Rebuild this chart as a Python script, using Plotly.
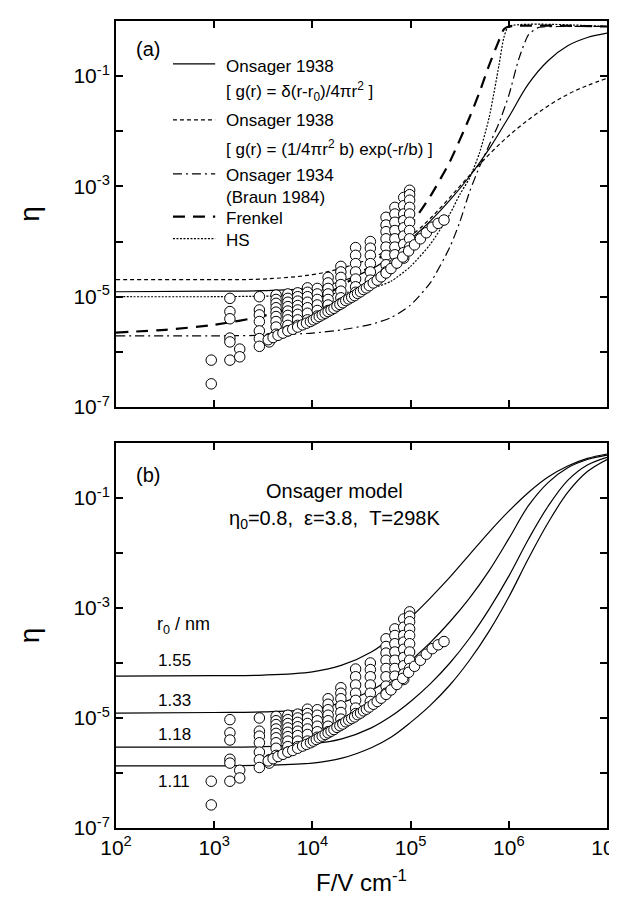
import plotly.graph_objects as go

FONT = "Liberation Sans, Arial, sans-serif"

# ---------------- data (log10 values) ----------------
lgF = [2.0, 3.0, 3.5, 4.0, 4.3, 4.6, 4.8, 5.0, 5.2, 5.4, 5.6, 5.8, 6.0, 6.2, 6.4, 6.6, 6.8, 7.0]

# panel (a) curves
ons38_delta = [-4.91, -4.90, -4.89, -4.84, -4.72, -4.50, -4.27, -3.96, -3.63, -3.25, -2.82, -2.32, -1.74, -1.14, -0.72, -0.45, -0.30, -0.22]
ons38_exp = [-4.69, -4.69, -4.68, -4.60, -4.48, -4.30, -4.12, -3.90, -3.58, -3.20, -2.80, -2.42, -2.08, -1.79, -1.54, -1.33, -1.17, -1.04]

lgF_braun = [2.0, 3.0, 3.5, 4.0, 4.3, 4.6, 4.8, 5.0, 5.2, 5.4, 5.5, 5.6, 5.7, 5.8, 5.9, 6.0, 6.1, 6.2, 6.3, 6.5, 7.0]
ons34_braun = [-5.71, -5.71, -5.70, -5.66, -5.60, -5.50, -5.38, -5.15, -4.75, -4.10, -3.65, -3.10, -2.65, -2.25, -1.85, -1.35, -0.70, -0.25, -0.12, -0.10, -0.10]

lgF_frenkel = [2.0, 2.5, 3.0, 3.5, 4.0, 4.3, 4.6, 4.8, 5.0, 5.2, 5.4, 5.6, 5.7, 5.8, 5.9, 5.95, 6.0, 7.0]
frenkel = [-5.65, -5.60, -5.51, -5.35, -5.07, -4.80, -4.43, -4.10, -3.70, -3.18, -2.55, -1.75, -1.30, -0.80, -0.35, -0.15, -0.10, -0.10]

lgF_hs = [2.0, 3.0, 3.5, 4.0, 4.3, 4.6, 4.8, 5.0, 5.2, 5.4, 5.5, 5.6, 5.7, 5.8, 5.9, 5.95, 6.0, 7.0]
hs = [-5.00, -5.00, -4.99, -4.97, -4.93, -4.85, -4.72, -4.45, -4.05, -3.50, -3.15, -2.85, -2.40, -1.75, -0.80, -0.30, -0.10, -0.10]

# panel (b) Onsager curves for several r0
r0_labels = ["1.55", "1.33", "1.18", "1.11"]
ons_r155 = [-4.24, -4.23, -4.22, -4.16, -4.04, -3.80, -3.54, -3.18, -2.82, -2.44, -2.03, -1.62, -1.24, -0.90, -0.62, -0.42, -0.28, -0.20]
ons_r133 = ons38_delta
ons_r118 = [-5.53, -5.53, -5.52, -5.47, -5.38, -5.18, -4.97, -4.70, -4.38, -4.00, -3.55, -3.02, -2.42, -1.75, -1.15, -0.68, -0.40, -0.26]
ons_r111 = [-5.87, -5.87, -5.86, -5.82, -5.73, -5.54, -5.35, -5.08, -4.77, -4.40, -3.95, -3.42, -2.80, -2.10, -1.45, -0.90, -0.52, -0.30]

# experimental points: columns (log10 F, list of log10 eta)
col_lgF = [2.97, 3.16, 3.26, 3.46, 3.56, 3.63, 3.75, 3.85, 3.95, 4.05, 4.16, 4.29, 4.44, 4.59, 4.75, 4.84, 4.93, 4.99]
col_lgEta = [
    [-6.15, -6.58],
    [-5.03, -5.27, -5.40, -5.75, -5.82, -6.15],
    [-5.95, -6.09],
    [-5.00, -5.24, -5.33, -5.45, -5.62, -5.76, -5.90],
    [-5.76, -5.82],
    [-4.97, -5.05, -5.12, -5.20, -5.28, -5.36, -5.45, -5.55, -5.68],
    [-4.95, -5.03, -5.10, -5.18, -5.26, -5.34, -5.42, -5.52, -5.62],
    [-4.93, -5.00, -5.08, -5.16, -5.24, -5.32, -5.42, -5.52],
    [-4.84, -4.92, -5.00, -5.10, -5.20, -5.30, -5.42],
    [-4.85, -4.95, -5.05, -5.15, -5.25, -5.35],
    [-4.65, -4.75, -4.85, -4.95, -5.05, -5.15, -5.25],
    [-4.45, -4.55, -4.65, -4.78, -4.90, -5.02, -5.12],
    [-4.11, -4.25, -4.40, -4.55, -4.68, -4.82, -4.92],
    [-4.00, -4.12, -4.25, -4.40, -4.55, -4.70],
    [-3.56, -3.70, -3.82, -3.95, -4.10, -4.25, -4.42, -4.55],
    [-3.38, -3.50, -3.65, -3.80, -3.95, -4.10, -4.24, -4.40],
    [-3.20, -3.35, -3.50, -3.62, -3.75, -3.90, -4.05, -4.20, -4.30],
    [-3.07, -3.15, -3.25, -3.38, -3.50, -3.65, -3.80, -3.95, -4.10],
]
# dense chain of points (one long measurement series)
chain_lgF = [3.55, 3.60, 3.65, 3.70, 3.75, 3.80, 3.85, 3.90, 3.94, 3.98, 4.01, 4.04, 4.07, 4.10, 4.13,
             4.16, 4.19, 4.22, 4.25, 4.28, 4.31, 4.34, 4.37, 4.40, 4.43, 4.46, 4.49, 4.52, 4.55, 4.58,
             4.62, 4.66, 4.70, 4.75, 4.80, 4.86, 4.92, 4.98, 5.04, 5.10, 5.16, 5.22, 5.28, 5.34]
chain_lgEta = [-5.78, -5.74, -5.70, -5.66, -5.62, -5.59, -5.55, -5.51, -5.48, -5.45, -5.42, -5.39, -5.36, -5.33, -5.30,
               -5.27, -5.24, -5.21, -5.17, -5.14, -5.11, -5.07, -5.04, -5.01, -4.98, -4.94, -4.91, -4.87, -4.84, -4.80,
               -4.75, -4.70, -4.64, -4.57, -4.49, -4.39, -4.28, -4.17, -4.06, -3.95, -3.84, -3.74, -3.67, -3.61]

x_tick_vals = [1e2, 1e3, 1e4, 1e5, 1e6, 1e7]
x_tick_text = ["10<sup>2</sup>", "10<sup>3</sup>", "10<sup>4</sup>", "10<sup>5</sup>", "10<sup>6</sup>", "10<sup>7</sup>"]
y_tick_vals = [1e-7, 1e-6, 1e-5, 1e-4, 1e-3, 1e-2, 1e-1, 1e0]
y_tick_text = ["10<sup>-7</sup>", "", "10<sup>-5</sup>", "", "10<sup>-3</sup>", "", "10<sup>-1</sup>", ""]


def p10(v):
    return [10 ** a for a in v]


data_x, data_y = [], []
for f, col in zip(col_lgF, col_lgEta):
    for e in col:
        data_x.append(10 ** f)
        data_y.append(10 ** e)
data_x += p10(chain_lgF)
data_y += p10(chain_lgEta)

fig = go.Figure()

LW = 1.2
# panel a curves
fig.add_trace(go.Scatter(x=p10(lgF), y=p10(ons38_delta), mode="lines", line=dict(color="black", width=LW, shape="spline"),
                         xaxis="x", yaxis="y", showlegend=False))
fig.add_trace(go.Scatter(x=p10(lgF), y=p10(ons38_exp), mode="lines", line=dict(color="black", width=LW, dash="4px,3px", shape="spline"),
                         xaxis="x", yaxis="y", showlegend=False))
fig.add_trace(go.Scatter(x=p10(lgF_braun), y=p10(ons34_braun), mode="lines", line=dict(color="black", width=LW, dash="9px,4px,2px,4px", shape="spline", smoothing=0.6),
                         xaxis="x", yaxis="y", showlegend=False))
fig.add_trace(go.Scatter(x=p10(lgF_frenkel), y=p10(frenkel), mode="lines", line=dict(color="black", width=2.2, dash="12px,8px", shape="spline", smoothing=0.6),
                         xaxis="x", yaxis="y", showlegend=False))
fig.add_trace(go.Scatter(x=p10(lgF_hs), y=p10(hs), mode="lines", line=dict(color="black", width=LW, dash="2px,1.5px", shape="spline", smoothing=0.6),
                         xaxis="x", yaxis="y", showlegend=False))

marker = dict(symbol="circle", size=10.5, color="white", line=dict(color="black", width=1))
fig.add_trace(go.Scatter(x=data_x, y=data_y, mode="markers", marker=marker, xaxis="x", yaxis="y", showlegend=False))

# panel b curves
for ys in [ons_r155, ons_r133, ons_r118, ons_r111]:
    fig.add_trace(go.Scatter(x=p10(lgF), y=p10(ys), mode="lines", line=dict(color="black", width=LW, shape="spline"),
                             xaxis="x2", yaxis="y2", showlegend=False))
fig.add_trace(go.Scatter(x=data_x, y=data_y, mode="markers", marker=marker, xaxis="x2", yaxis="y2", showlegend=False))

axis_common = dict(type="log", showgrid=False, zeroline=False, showline=True, linecolor="black", linewidth=2,
                   mirror="ticks", ticks="inside", ticklen=7, tickwidth=2, tickcolor="black", automargin=False,
                   tickfont=dict(family=FONT, size=21, color="black"))

fig.update_layout(
    width=617, height=905,
    margin=dict(l=108, r=18, t=13, b=85),
    plot_bgcolor="white", paper_bgcolor="white",
    font=dict(family=FONT, color="black"),
    xaxis=dict(axis_common, domain=[0, 1], anchor="y", range=[2, 7], tickvals=x_tick_vals, ticktext=x_tick_text, showticklabels=False),
    yaxis=dict(axis_common, domain=[0.5217, 1], anchor="x", range=[-7, 0], tickvals=y_tick_vals, ticktext=y_tick_text,
               title=dict(text="η", font=dict(family=FONT, size=28), standoff=26)),
    xaxis2=dict(axis_common, domain=[0, 1], anchor="y2", range=[2, 7], tickvals=x_tick_vals, ticktext=x_tick_text,
                title=dict(text="F/V cm<sup>-1</sup>", font=dict(family=FONT, size=24), standoff=16)),
    yaxis2=dict(axis_common, domain=[0, 0.4771], anchor="x2", range=[-7, 0], tickvals=y_tick_vals, ticktext=y_tick_text,
                title=dict(text="η", font=dict(family=FONT, size=28), standoff=26)),
)

ann = []
def txt(text, x, y, xref, yref, size, xanchor="left"):
    ann.append(dict(text=text, x=x, y=y, xref=xref, yref=yref, showarrow=False, xanchor=xanchor, yanchor="middle",
                    font=dict(family=FONT, size=size, color="black")))

# panel a labels & legend
txt("(a)", 0.065, 0.927, "x domain", "y domain", 20, "center")
leg_rows = [
    ("Onsager 1938", 0.8834),
    ("[ g(r) = δ(r-r<sub>0</sub>)/4πr<sup>2</sup> ]", 0.8175),
    ("Onsager 1938", 0.741),
    ("[ g(r) = (1/4πr<sup>2</sup> b) exp(-r/b) ]", 0.6698),
    ("Onsager 1934", 0.601),
    ("(Braun 1984)", 0.5415),
    ("Frenkel", 0.4896),
    ("HS", 0.4326),
]
for t, yy in leg_rows:
    txt(t, 0.22, yy, "x domain", "y domain", 17)

samples = [
    (0.889, dict(color="black", width=LW)),
    (0.744, dict(color="black", width=LW, dash="4px,3px")),
    (0.604, dict(color="black", width=LW, dash="9px,4px,2px,4px")),
    (0.493, dict(color="black", width=2.2, dash="12px,8px")),
    (0.436, dict(color="black", width=LW, dash="2px,1.5px")),
]
shapes = []
for yy, ln in samples:
    shapes.append(dict(type="line", xref="x domain", yref="y domain", x0=0.116, x1=0.202, y0=yy, y1=yy, line=ln))

# panel b labels
txt("(b)", 0.065, 0.917, "x2 domain", "y2 domain", 20, "center")
txt("Onsager model", 0.446, 0.875, "x2 domain", "y2 domain", 20, "center")
txt("η<sub>0</sub>=0.8,\u00a0\u00a0ε=3.8,\u00a0\u00a0T=298K", 0.446, 0.80, "x2 domain", "y2 domain", 20, "center")
txt("r<sub>0</sub>\u00a0/\u00a0nm", 0.079, 0.527, "x2 domain", "y2 domain", 18)
for lab, yy in zip(r0_labels, [0.434, 0.33, 0.2416, 0.122]):
    txt(lab, 0.082, yy, "x2 domain", "y2 domain", 17)

fig.update_layout(annotations=ann, shapes=shapes)
fig.write_html("out.html")
